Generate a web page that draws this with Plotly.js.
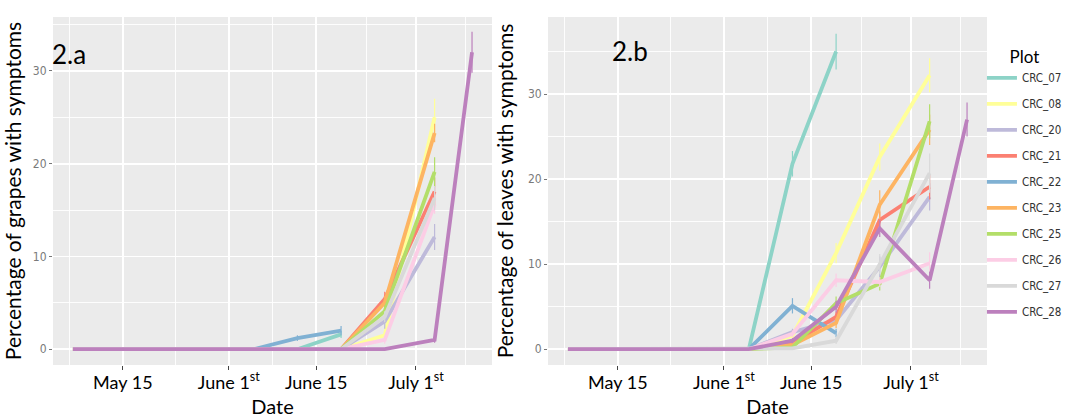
<!DOCTYPE html>
<html><head><meta charset="utf-8">
<script src="https://cdn.plot.ly/plotly-3.0.1.min.js"></script>
<style>html,body{margin:0;padding:0;background:#fff}#chart{width:1070px;height:418px}</style>
</head><body><div id="chart"></div>
<script>
// sampling dates
const dates = ['2017-05-07','2017-06-05','2017-06-12','2017-06-19','2017-06-26','2017-07-04','2017-07-10'];
const plotNames = ['CRC_07','CRC_08','CRC_20','CRC_21','CRC_22','CRC_23','CRC_25','CRC_26','CRC_27','CRC_28'];
const tickDates = ['2017-05-15','2017-06-01','2017-06-15','2017-07-01'];
const tickLabels = ['May 15','June 1<sup>st</sup>','June 15','July 1<sup>st</sup>'];
const minorDates = ['2017-05-06 12:00','2017-05-23 12:00','2017-06-08','2017-06-23','2017-07-09'];
const yTicks = [0,10,20,30];
const yMinor = [5,15,25,35];

// 2.a  Percentage of grapes with symptoms
const grapes07 = [0,0,0,1.6,null,null,null];
const grapes08 = [0,0,0,0,1.5,25.0,null];
const grapes20 = [0,0,0,0,3.0,12.1,null];
const grapes21 = [0,0,0,0,5.4,17.0,null];
const grapes22 = [0,0,1.2,2.0,null,null,null];
const grapes23 = [0,0,0,0,5.0,23.3,null];
const grapes25 = [0,0,0,0,4.1,19.1,null];
const grapes26 = [0,0,0,0,1.0,15.6,null];
const grapes27 = [0,0,0,0,3.5,16.3,null];
const grapes28 = [0,0,0,0,0,1.0,32.0];
// error bars (grapes)
const grapesErr07 = [0,0,0,0.4,null,null,null];
const grapesErr08 = [0,0,0,0,0.6,2.0,null];
const grapesErr20 = [0,0,0,0,0.8,1.4,null];
const grapesErr21 = [0,0,0,0,0.8,1.5,null];
const grapesErr22 = [0,0,0.3,0.5,null,null,null];
const grapesErr23 = [0,0,0,0,0.7,1.0,null];
const grapesErr25 = [0,0,0,0,0.6,1.6,null];
const grapesErr26 = [0,0,0,0,0.4,1.0,null];
const grapesErr27 = [0,0,0,0,0.6,1.3,null];
const grapesErr28 = [0,0,0,0,0,0.3,2.2];

// 2.b  Percentage of leaves with symptoms
const leaves07 = [0,0,21.8,35.0,null,null,null];
const leaves08 = [0,0,1.6,11.3,22.6,32.2,null];
const leaves20 = [0,0,2.0,3.4,9.7,17.9,null];
const leaves21 = [0,0,0.7,3.8,15.2,19.1,null];
const leaves22 = [0,0,5.1,1.9,null,null,null];
const leaves23 = [0,0,0.5,3.1,17.0,25.8,null];
const leaves25 = [0,0,0.2,5.4,7.7,26.8,null];
const leaves26 = [0,0,1.8,8.1,7.9,10.1,null];
const leaves27 = [0,0,0.1,1.0,10.0,20.7,null];
const leaves28 = [0,0,1.0,5.0,14.2,8.1,27.0];
// error bars (leaves)
const leavesErr07 = [0,0,1.5,2.1,null,null,null];
const leavesErr08 = [0,0,0.4,1.2,1.6,2.0,null];
const leavesErr20 = [0,0,0.4,0.6,1.2,1.6,null];
const leavesErr21 = [0,0,0.3,0.6,1.0,1.5,null];
const leavesErr22 = [0,0,0.9,0.5,null,null,null];
const leavesErr23 = [0,0,0.3,0.6,1.7,1.8,null];
const leavesErr25 = [0,0,0.2,0.8,0.8,2.0,null];
const leavesErr26 = [0,0,0.4,0.8,0.6,1.3,null];
const leavesErr27 = [0,0,0.1,0.4,1.2,2.3,null];
const leavesErr28 = [0,0,0.3,0.7,1.0,1.0,2.0];

const palette = ['#8DD3C7','#FFFF99','#BEBADA','#FB8072','#80B1D3','#FDB462','#B3DE69','#FCCDE5','#D9D9D9','#BC80BD'];

const grapesVals = [grapes07,grapes08,grapes20,grapes21,grapes22,grapes23,grapes25,grapes26,grapes27,grapes28];
const grapesErrs = [grapesErr07,grapesErr08,grapesErr20,grapesErr21,grapesErr22,grapesErr23,grapesErr25,grapesErr26,grapesErr27,grapesErr28];
const leavesVals = [leaves07,leaves08,leaves20,leaves21,leaves22,leaves23,leaves25,leaves26,leaves27,leaves28];
const leavesErrs = [leavesErr07,leavesErr08,leavesErr20,leavesErr21,leavesErr22,leavesErr23,leavesErr25,leavesErr26,leavesErr27,leavesErr28];

const condensed = '"DejaVu Sans Condensed", "Liberation Sans", sans-serif';

function mk(vals, errs, i, xa, ya, show) {
  return {
    type: 'scatter', mode: 'lines', x: dates, y: vals,
    name: plotNames[i], legendgroup: plotNames[i], showlegend: show,
    xaxis: xa, yaxis: ya,
    line: {color: palette[i], width: 3.8},
    error_y: {type: 'data', array: errs, visible: true, color: palette[i], thickness: 1.2, width: 0},
    hoverinfo: 'x+y+name'
  };
}
const traces = [];
for (let i = 0; i < plotNames.length; i++) traces.push(mk(grapesVals[i], grapesErrs[i], i, 'x', 'y', false));
for (let i = 0; i < plotNames.length; i++) traces.push(mk(leavesVals[i], leavesErrs[i], i, 'x2', 'y2', true));

const xRange = ['2017-05-03 19:12','2017-07-13 04:48'];
function xAxis(domain, anchor) {
  return {
    domain: domain, anchor: anchor, type: 'date', range: xRange,
    tickmode: 'array', tickvals: tickDates, ticktext: tickLabels,
    ticks: 'outside', ticklen: 4, tickwidth: 1, tickcolor: '#444',
    ticklabelstandoff: -3,
    tickfont: {family: 'Lato', size: 18, color: '#000'},
    showgrid: true, gridcolor: '#FFFFFF', gridwidth: 1.8,
    minor: {tickmode: 'array', tickvals: minorDates, showgrid: true, gridcolor: '#FFFFFF', gridwidth: 0.9, ticks: ''},
    zeroline: false, showline: false,
    title: {text: 'Date', font: {family: 'Lato', size: 20, color: '#000'}, standoff: 8}
  };
}
function yAxis(range, anchor, title) {
  return {
    anchor: anchor, range: range, domain: [0, 1],
    tickmode: 'array', tickvals: yTicks,
    ticks: 'outside', ticklen: 3, tickwidth: 1, tickcolor: '#777',
    tickfont: {family: condensed, size: 12, color: '#7a7a7a'},
    showgrid: true, gridcolor: '#FFFFFF', gridwidth: 1.8,
    minor: {tickmode: 'array', tickvals: yMinor, showgrid: true, gridcolor: '#FFFFFF', gridwidth: 0.9, ticks: ''},
    zeroline: false, showline: false,
    title: {text: title, font: {family: 'Lato', size: 21, color: '#000'}, standoff: 8}
  };
}

const layout = {
  width: 1070, height: 418,
  margin: {l: 53, r: 83, t: 17, b: 53, autoexpand: false},
  paper_bgcolor: '#FFFFFF', plot_bgcolor: '#EBEBEB',
  font: {family: 'Lato', color: '#000'},
  xaxis: xAxis([0, 0.470], 'y'),
  yaxis: yAxis([-1.7, 35.8], 'x', 'Percentage of grapes with symptoms'),
  xaxis2: xAxis([0.530, 1], 'y2'),
  yaxis2: yAxis([-1.86, 39.06], 'x2', 'Percentage of leaves with symptoms'),
  showlegend: true,
  legend: {
    x: 0.9946, xanchor: 'left', y: 0.93, yanchor: 'top',
    title: {text: 'Plot', side: 'top center', font: {family: 'Lato', size: 17, color: '#000'}},
    font: {family: condensed, size: 11.5, color: '#333'},
    tracegroupgap: 7, itemwidth: 30, bgcolor: 'rgba(0,0,0,0)'
  },
  annotations: [
    {text: '2.a', xref: 'x domain', yref: 'y domain', x: -0.006, y: 0.894, xanchor: 'left', yanchor: 'middle', showarrow: false, font: {family: 'Lato', size: 26, color: '#000'}},
    {text: '2.b', xref: 'x2 domain', yref: 'y2 domain', x: 0.141, y: 0.902, xanchor: 'left', yanchor: 'middle', showarrow: false, font: {family: 'Lato', size: 26, color: '#000'}}
  ]
};

Plotly.newPlot('chart', traces, layout, {displayModeBar: false, staticPlot: true});
</script></body></html>
